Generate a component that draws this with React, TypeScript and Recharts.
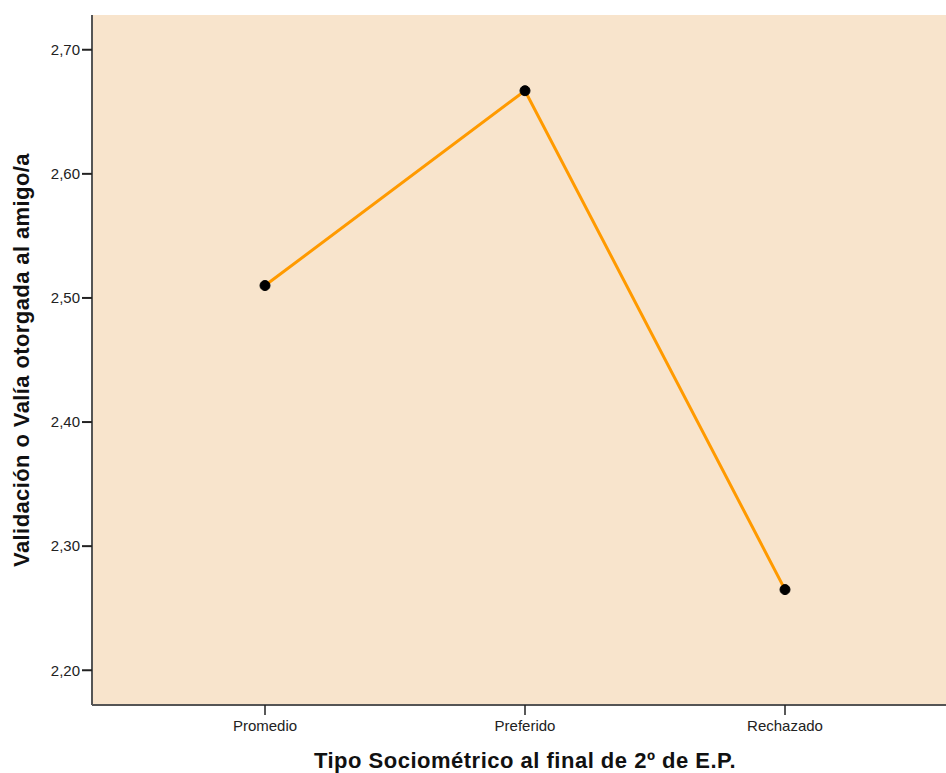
import React from "react";
import { LineChart, Line, XAxis, YAxis, CartesianGrid } from "recharts";

const categories = ["Promedio", "Preferido", "Rechazado"];
const meanValues = [2.51, 2.667, 2.265];
const yTicks = [2.2, 2.3, 2.4, 2.5, 2.6, 2.7];

const data = categories.map((tipo, i) => ({ tipo, valor: meanValues[i] }));

const FONT = '"Liberation Sans", Arial, sans-serif';
const BORDER = "#555555";

export default function App() {
  return (
    <div
      style={{
        position: "absolute",
        top: 0,
        left: 0,
        width: 946,
        height: 773,
        overflow: "hidden",
        background: "#ffffff",
        fontFamily: FONT,
      }}
    >
      <LineChart
        width={960}
        height={773}
        data={data}
        margin={{ top: 15, right: 2, left: 0, bottom: 0 }}
      >
        <CartesianGrid horizontal={false} vertical={false} fill="#f8e4cc" />
        <XAxis
          dataKey="tipo"
          height={68}
          padding={{ left: 173, right: 173 }}
          tickSize={10}
          tickMargin={5}
          tick={{ fill: "#222", fontSize: 15, fontFamily: FONT }}
          axisLine={{ stroke: BORDER, strokeWidth: 2 }}
          tickLine={{ stroke: "#222", strokeWidth: 1.5 }}
          label={{
            value: "Tipo Sociométrico al final de 2º de E.P.",
            position: "insideBottom",
            offset: 5,
            fill: "#111",
            fontSize: 22,
            fontWeight: "bold",
            letterSpacing: 0.5,
            fontFamily: FONT,
          }}
        />
        <XAxis
          xAxisId="top"
          dataKey="tipo"
          orientation="top"
          height={0}
          tick={false}
          tickLine={false}
          axisLine={{ stroke: BORDER, strokeWidth: 2 }}
        />
        <YAxis
          width={92}
          domain={[2.172, 2.728]}
          ticks={yTicks}
          allowDataOverflow
          tickSize={10}
          tickMargin={2}
          tickFormatter={(v: number) => v.toFixed(2).replace(".", ",")}
          tick={{ fill: "#222", fontSize: 15, fontFamily: FONT }}
          axisLine={{ stroke: BORDER, strokeWidth: 2 }}
          tickLine={{ stroke: "#222", strokeWidth: 2 }}
          label={{
            value: "Validación o Valía otorgada al amigo/a",
            angle: -90,
            position: "insideLeft",
            offset: 21,
            style: { textAnchor: "middle", letterSpacing: 0.4 },
            fill: "#111",
            fontSize: 22,
            fontWeight: "bold",
            fontFamily: FONT,
          }}
        />
        <Line
          type="linear"
          dataKey="valor"
          stroke="#ff9a00"
          strokeWidth={3}
          dot={{ r: 5, fill: "#000", stroke: "#000", strokeWidth: 1 }}
          activeDot={false}
          isAnimationActive={false}
        />
      </LineChart>
    </div>
  );
}
